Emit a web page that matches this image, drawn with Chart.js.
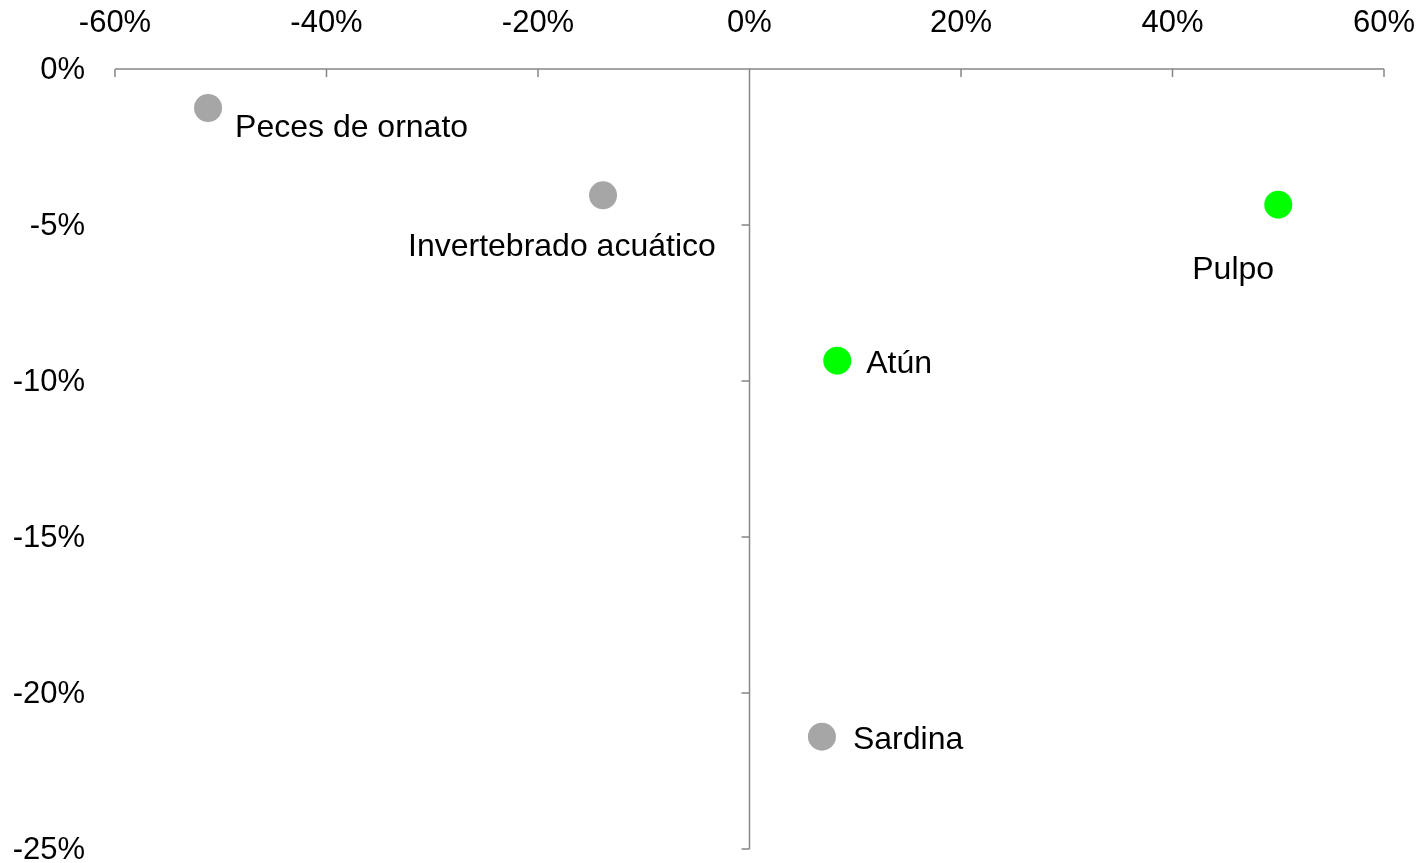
<!DOCTYPE html>
<html>
<head>
<meta charset="utf-8">
<title>Crecimiento por especie</title>
<script src="https://cdn.jsdelivr.net/npm/chart.js@4.4.1/dist/chart.umd.min.js"></script>
<style>
    html, body { margin: 0; padding: 0; background: #fff; overflow: hidden; }
    #wrap { position: relative; width: 1428px; height: 863px; }
</style>
</head>
<body>
<div id="wrap"><canvas id="chart"></canvas></div>
<script>
// Data (values in %)
const species = ['Peces de ornato', 'Invertebrado acuático', 'Pulpo', 'Atún', 'Sardina'];
const xValues = [-51.2, -13.85, 50.0, 8.3, 6.85];
const yValues = [-1.25, -4.05, -4.35, -9.35, -21.4];
const xTicks = [-60, -40, -20, 0, 20, 40, 60];
const yTicks = [0, -5, -10, -15, -20, -25];

// Styling
const GRAY = '#a6a6a6';
const GREEN = '#00ff00';
const AXIS = '#868686';
const FONT = '"Liberation Sans", Arial, sans-serif';
const pointColors = [GRAY, GRAY, GREEN, GREEN, GRAY];
// label offset from the point centre (left edge / vertical middle of text)
const labelOffsets = [[27, 20], [-195, 52], [-86, 65], [29, 3], [31, 3]];

const points = xValues.map((x, i) => ({ x: x, y: yValues[i] }));

/**
 * Draws the crossing axes (x along the top at y = 0, y at x = 0)
 * with their small tick marks, like the spreadsheet original.
 */
const crossAxes = {
    id: 'crossAxes',
    beforeDatasetsDraw(chart) {
        const { ctx, scales: { x, y } } = chart;
        const x0 = x.getPixelForValue(0);
        const y0 = y.getPixelForValue(0);
        ctx.save();
        ctx.strokeStyle = AXIS;
        ctx.lineWidth = 1.5;
        ctx.beginPath();
        // horizontal axis
        ctx.moveTo(x.getPixelForValue(xTicks[0]), y0);
        ctx.lineTo(x.getPixelForValue(xTicks[xTicks.length - 1]), y0);
        xTicks.forEach(t => {
            const px = x.getPixelForValue(t);
            ctx.moveTo(px, y0);
            ctx.lineTo(px, y0 + 8);
        });
        // vertical axis
        ctx.moveTo(x0, y.getPixelForValue(yTicks[0]));
        ctx.lineTo(x0, y.getPixelForValue(yTicks[yTicks.length - 1]));
        yTicks.forEach(t => {
            const py = y.getPixelForValue(t);
            ctx.moveTo(x0 - 8, py);
            ctx.lineTo(x0, py);
        });
        ctx.stroke();
        ctx.restore();
    }
};

// Species names next to each point
const pointLabels = {
    id: 'pointLabels',
    afterDatasetsDraw(chart) {
        const { ctx } = chart;
        const meta = chart.getDatasetMeta(0);
        ctx.save();
        ctx.font = '32px ' + FONT;
        ctx.fillStyle = '#000';
        ctx.textAlign = 'left';
        ctx.textBaseline = 'middle';
        meta.data.forEach((pt, i) => {
            const [dx, dy] = labelOffsets[i];
            ctx.fillText(species[i], pt.x + dx, pt.y + dy);
        });
        ctx.restore();
    }
};

const pct = v => v + '%';

new Chart(document.getElementById('chart'), {
    type: 'scatter',
    data: {
        labels: species,
        datasets: [{
            data: points,
            backgroundColor: pointColors,
            borderWidth: 0,
            pointRadius: 14,
            pointHoverRadius: 14
        }]
    },
    options: {
        responsive: true,
        maintainAspectRatio: false,
        animation: false,
        layout: { padding: { left: 0, right: 44, top: 0, bottom: 14 } },
        plugins: {
            legend: { display: false },
            tooltip: { enabled: false }
        },
        scales: {
            x: {
                position: 'top',
                min: -60,
                max: 60,
                afterBuildTicks: s => { s.ticks = xTicks.map(v => ({ value: v })); },
                afterFit: s => {
                    s.height = 69;
                    s.paddingLeft = 0;
                    s.paddingRight = 0;
                },
                grid: { display: false, drawTicks: false },
                border: { display: false },
                ticks: {
                    padding: 27,
                    color: '#000',
                    font: { family: FONT, size: 31 },
                    maxRotation: 0,
                    callback: pct
                }
            },
            y: {
                position: 'left',
                min: -25,
                max: 0,
                afterBuildTicks: s => { s.ticks = yTicks.map(v => ({ value: v })); },
                afterFit: s => {
                    s.width = 115;
                    s.paddingTop = 0;
                    s.paddingBottom = 0;
                },
                grid: { display: false, drawTicks: false },
                border: { display: false },
                ticks: {
                    padding: 30,
                    labelOffset: 1,
                    color: '#000',
                    font: { family: FONT, size: 31 },
                    callback: pct
                }
            }
        }
    },
    plugins: [crossAxes, pointLabels]
});
</script>
</body>
</html>
